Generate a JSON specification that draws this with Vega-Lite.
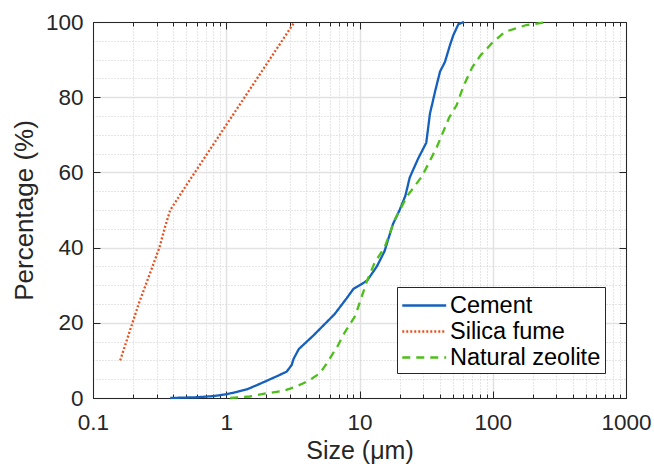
{
  "$schema": "https://vega.github.io/schema/vega-lite/v6.json",
  "width": 533,
  "height": 376,
  "autosize": {"type": "none"},
  "padding": {"left": 93, "top": 22, "right": 28, "bottom": 66},
  "background": "white",
  "config": {
    "view": {"stroke": null},
    "font": "Liberation Sans"
  },
  "data": {
    "values": [
      {"series": "Cement", "size": 0.38, "pct": 0},
      {"series": "Cement", "size": 0.6, "pct": 0.2},
      {"series": "Cement", "size": 0.8, "pct": 0.5},
      {"series": "Cement", "size": 1.0, "pct": 1.0},
      {"series": "Cement", "size": 1.2, "pct": 1.6},
      {"series": "Cement", "size": 1.43, "pct": 2.3},
      {"series": "Cement", "size": 1.77, "pct": 3.7},
      {"series": "Cement", "size": 2.3, "pct": 5.5},
      {"series": "Cement", "size": 2.84, "pct": 7.0},
      {"series": "Cement", "size": 3.1, "pct": 8.8},
      {"series": "Cement", "size": 3.2, "pct": 10.4},
      {"series": "Cement", "size": 3.5, "pct": 13},
      {"series": "Cement", "size": 4.5, "pct": 16.6},
      {"series": "Cement", "size": 6.5, "pct": 22.3},
      {"series": "Cement", "size": 8.0, "pct": 26.5},
      {"series": "Cement", "size": 9.0, "pct": 29},
      {"series": "Cement", "size": 11.4, "pct": 31.2},
      {"series": "Cement", "size": 13.5, "pct": 35},
      {"series": "Cement", "size": 15.4, "pct": 39},
      {"series": "Cement", "size": 17.8, "pct": 46.2},
      {"series": "Cement", "size": 20, "pct": 50},
      {"series": "Cement", "size": 22.1, "pct": 53.8},
      {"series": "Cement", "size": 23.8, "pct": 58.6},
      {"series": "Cement", "size": 27.4, "pct": 63.5},
      {"series": "Cement", "size": 31.7, "pct": 67.9},
      {"series": "Cement", "size": 33.8, "pct": 75.7},
      {"series": "Cement", "size": 35.3, "pct": 78.5},
      {"series": "Cement", "size": 36.9, "pct": 81.5},
      {"series": "Cement", "size": 40.2, "pct": 86.8},
      {"series": "Cement", "size": 43.8, "pct": 89.4},
      {"series": "Cement", "size": 47.8, "pct": 93.9},
      {"series": "Cement", "size": 50.6, "pct": 96.5},
      {"series": "Cement", "size": 55.2, "pct": 99.4},
      {"series": "Cement", "size": 61, "pct": 100},
      {"series": "Silica fume", "size": 0.16, "pct": 10},
      {"series": "Silica fume", "size": 0.22, "pct": 25},
      {"series": "Silica fume", "size": 0.28, "pct": 35},
      {"series": "Silica fume", "size": 0.315, "pct": 40},
      {"series": "Silica fume", "size": 0.347, "pct": 45.5},
      {"series": "Silica fume", "size": 0.38, "pct": 50},
      {"series": "Silica fume", "size": 0.5, "pct": 56.5},
      {"series": "Silica fume", "size": 3.25, "pct": 100},
      {"series": "Natural zeolite", "size": 1.07, "pct": 0},
      {"series": "Natural zeolite", "size": 1.5, "pct": 0.4},
      {"series": "Natural zeolite", "size": 2.05, "pct": 1.3},
      {"series": "Natural zeolite", "size": 2.68, "pct": 1.9},
      {"series": "Natural zeolite", "size": 3.2, "pct": 2.8},
      {"series": "Natural zeolite", "size": 3.79, "pct": 3.9},
      {"series": "Natural zeolite", "size": 4.4, "pct": 5.2},
      {"series": "Natural zeolite", "size": 5.05, "pct": 6.6},
      {"series": "Natural zeolite", "size": 5.63, "pct": 9},
      {"series": "Natural zeolite", "size": 6.93, "pct": 14.1},
      {"series": "Natural zeolite", "size": 7.5, "pct": 16.6},
      {"series": "Natural zeolite", "size": 9.3, "pct": 21.9},
      {"series": "Natural zeolite", "size": 11.4, "pct": 31.2},
      {"series": "Natural zeolite", "size": 13, "pct": 36},
      {"series": "Natural zeolite", "size": 15.4, "pct": 40},
      {"series": "Natural zeolite", "size": 18.5, "pct": 47.6},
      {"series": "Natural zeolite", "size": 22.9, "pct": 53.8},
      {"series": "Natural zeolite", "size": 29.5, "pct": 59},
      {"series": "Natural zeolite", "size": 37.9, "pct": 66.6},
      {"series": "Natural zeolite", "size": 47.1, "pct": 74.6},
      {"series": "Natural zeolite", "size": 53.6, "pct": 77.9},
      {"series": "Natural zeolite", "size": 60.1, "pct": 82.8},
      {"series": "Natural zeolite", "size": 70, "pct": 87.9},
      {"series": "Natural zeolite", "size": 80.5, "pct": 91},
      {"series": "Natural zeolite", "size": 98.2, "pct": 94.3},
      {"series": "Natural zeolite", "size": 123.6, "pct": 97.4},
      {"series": "Natural zeolite", "size": 179, "pct": 99.2},
      {"series": "Natural zeolite", "size": 260, "pct": 100}
    ]
  },
  "resolve": {"axis": {"x": "independent", "y": "independent"}},
  "layer": [
    {
      "mark": {"type": "line", "strokeWidth": 2.3},
      "encoding": {
        "x": {
          "field": "size", "type": "quantitative",
          "scale": {"type": "log", "domain": [0.1, 1000], "nice": false},
          "axis": {
            "orient": "bottom",
            "values": [0.1,0.2,0.3,0.4,0.5,0.6,0.7,0.8,0.9,1,2,3,4,5,6,7,8,9,10,20,30,40,50,60,70,80,90,100,200,300,400,500,600,700,800,900,1000],
            "format": "~g",
            "labelExpr": "indexof([0.1,1,10,100,1000], datum.value) >= 0 ? datum.label : ''",
            "grid": true,
            "gridColor": {"condition": {"test": "indexof([0.1,1,10,100,1000], datum.value) >= 0", "value": "#e2e2e2"}, "value": "#cdcdcd"},
            "gridDash": {"condition": {"test": "indexof([0.1,1,10,100,1000], datum.value) >= 0", "value": []}, "value": [1, 2]},
            "gridWidth": {"condition": {"test": "indexof([0.1,1,10,100,1000], datum.value) >= 0", "value": 1.5}, "value": 1},
            "tickSize": {"condition": {"test": "indexof([0.1,1,10,100,1000], datum.value) >= 0", "value": -7}, "value": -4},
            "tickColor": "#262626",
            "domainColor": "#262626",
            "labelFont": "Liberation Sans", "labelFontSize": 22.5, "labelColor": "#262626",
            "labelPadding": 20, "labelFlush": false, "labelOverlap": false,
            "title": "Size (μm)",
            "titleFont": "Liberation Sans", "titleFontSize": 25, "titleFontWeight": "normal", "titleColor": "#262626",
            "titlePadding": 2
          }
        },
        "y": {
          "field": "pct", "type": "quantitative",
          "scale": {"domain": [0, 100], "nice": false},
          "axis": {
            "orient": "left",
            "values": [0,5,10,15,20,25,30,35,40,45,50,55,60,65,70,75,80,85,90,95,100],
            "labelExpr": "datum.value % 20 == 0 ? datum.label : ''",
            "grid": true,
            "gridColor": {"condition": {"test": "datum.value % 20 == 0", "value": "#e2e2e2"}, "value": "#cdcdcd"},
            "gridDash": {"condition": {"test": "datum.value % 20 == 0", "value": []}, "value": [1, 2]},
            "gridWidth": {"condition": {"test": "datum.value % 20 == 0", "value": 1.5}, "value": 1},
            "tickSize": {"condition": {"test": "datum.value % 20 == 0", "value": -7}, "value": 0},
            "tickColor": "#262626",
            "domainColor": "#262626",
            "labelFont": "Liberation Sans", "labelFontSize": 22.5, "labelColor": "#262626",
            "labelPadding": 17, "labelFlush": false, "labelOverlap": false,
            "title": "Percentage (%)",
            "titleFont": "Liberation Sans", "titleFontSize": 26, "titleFontWeight": "normal", "titleColor": "#262626",
            "titlePadding": 8
          }
        },
        "color": {
          "field": "series", "type": "nominal",
          "scale": {"domain": ["Cement", "Silica fume", "Natural zeolite"], "range": ["#1560BD", "#E8501F", "#4DBE1A"]},
          "legend": {
            "orient": "none", "legendX": 304, "legendY": 265,
            "title": null,
            "symbolType": "M-1,0H2.32",
            "symbolSize": 700,
            "symbolStrokeWidth": 2.3,
            "labelOffset": 20,
            "labelFont": "Liberation Sans", "labelFontSize": 23.5, "labelColor": "#000000",
            "padding": 4,
            "rowPadding": 0,
            "fillColor": "white",
            "strokeColor": "#262626",
            "cornerRadius": 0
          }
        },
        "strokeDash": {
          "field": "series", "type": "nominal",
          "scale": {"domain": ["Cement", "Silica fume", "Natural zeolite"], "range": [[1, 0], [2, 2], [8, 6]]},
          "legend": null
        }
      }
    },
    {
      "mark": {"type": "line", "strokeOpacity": 0},
      "encoding": {
        "x": {
          "field": "size", "type": "quantitative",
          "axis": {
            "orient": "top",
            "values": [0.1,0.2,0.3,0.4,0.5,0.6,0.7,0.8,0.9,1,2,3,4,5,6,7,8,9,10,20,30,40,50,60,70,80,90,100,200,300,400,500,600,700,800,900,1000],
            "labels": false, "grid": false, "title": null,
            "tickSize": {"condition": {"test": "indexof([0.1,1,10,100,1000], datum.value) >= 0", "value": -7}, "value": -4},
            "tickColor": "#262626", "domainColor": "#262626"
          }
        },
        "y": {
          "field": "pct", "type": "quantitative",
          "axis": {
            "orient": "right",
            "values": [0,20,40,60,80,100],
            "labels": false, "grid": false, "title": null,
            "tickSize": -7,
            "tickColor": "#262626", "domainColor": "#262626"
          }
        },
        "detail": {"field": "series", "type": "nominal"}
      }
    }
  ]
}
